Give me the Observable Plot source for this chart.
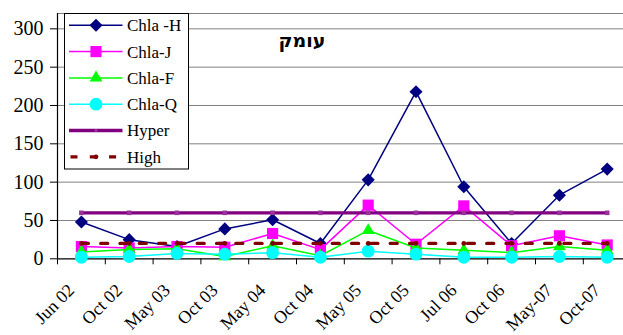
<!DOCTYPE html>
<html>
<head>
<meta charset="utf-8">
<script src="https://cdn.jsdelivr.net/npm/d3@7"></script>
<script src="https://cdn.jsdelivr.net/npm/@observablehq/plot@0.6"></script>
<style>
  html, body { margin: 0; padding: 0; background: #fff; }
  #chart svg { display: block; }
</style>
</head>
<body>
<div id="chart"></div>
<script>
// Sampling dates (x categories)
const dates = ["Jun 02", "Oct 02", "May 03", "Oct 03", "May 04", "Oct 04",
               "May 05", "Oct 05", "Jul 06", "Oct 06", "May-07", "Oct-07"];

// Chlorophyll-a by station
const chlaH = [48, 25, 16, 39, 51, 20, 103, 218, 94, 20, 83, 117];
const chlaJ = [16, 14, 16, 15, 33, 12, 70, 19, 69, 17, 30, 18];
const chlaF = [9, 12, 13, 3, 17, 4, 37, 14, 11, 8, 16, 11];
const chlaQ = [2, 3, 7, 6, 8, 2, 10, 6, 2, 2, 3, 2];

// Trophic thresholds
const hyper = dates.map(() => 60);
const high = dates.map(() => 20);

const yTicks = [0, 50, 100, 150, 200, 250, 300];
const title = "עומק";

const serif = "'Liberation Serif', 'Times New Roman', serif";

const series = [
  {name: "Chla -H", values: chlaH, color: "#000080", symbol: "diamond2", r: 5.9},
  {name: "Chla-J", values: chlaJ, color: "#ff00ff", symbol: "square", r: 6.3},
  {name: "Chla-F", values: chlaF, color: "#00ff00", symbol: "triangle", r: 4.7},
  {name: "Chla-Q", values: chlaQ, color: "#00ffff", symbol: "circle", r: 6.4}
];

const idx = dates.map((_, i) => i);
const bounds = d3.range(-0.5, dates.length - 1, 1);

const seriesMarks = series.flatMap(s => [
  Plot.line(idx, {x: i => i, y: i => s.values[i], stroke: s.color, strokeWidth: 1.5}),
  Plot.dot(idx, {x: i => i, y: i => s.values[i], symbol: () => s.symbol, r: s.r, fill: s.color, stroke: "none"})
]);

const chart = Plot.plot({
  width: 623,
  height: 335,
  marginLeft: 57,
  marginRight: 0,
  marginTop: 13,
  marginBottom: 76.7,
  style: {fontFamily: serif, fontSize: "19px", color: "#000", background: "#fff"},
  symbol: {type: "identity"},
  x: {type: "linear", domain: [-0.5, -0.5 + 566 / 47.8]},
  y: {domain: [0, 320]},
  marks: [
    Plot.gridY(yTicks.filter(t => t > 0), {stroke: "#808080", strokeOpacity: 1, strokeWidth: 1}),
    Plot.ruleY([320], {stroke: "#808080", strokeWidth: 1}),
    Plot.axisY({ticks: yTicks, tickSize: 7, tickPadding: 7, tickFormat: d => d, fontSize: 20, stroke: "#000"}),
    Plot.axisX({ticks: bounds, tickSize: 6, tickFormat: () => "", stroke: "#000"}),
    Plot.axisX({ticks: idx, tickSize: 0, tickRotate: -45, tickPadding: 28.5, dx: -10, tickFormat: i => dates[i], fontSize: 18}),
    Plot.ruleY([0], {stroke: "#000", strokeWidth: 1.2}),
    Plot.ruleX([-0.5], {y1: 0, y2: 320, stroke: "#000", strokeWidth: 1.2}),
    ...seriesMarks,
    // Hypertrophic threshold
    Plot.line(idx, {x: i => i, y: i => hyper[i], stroke: "#800080", strokeWidth: 3.3}),
    Plot.dot(idx, {x: i => i, y: i => hyper[i], symbol: "square", r: 2.6, fill: "#993399"}),
    // High threshold
    Plot.line(idx, {x: i => i, y: i => high[i], stroke: "#800000", strokeWidth: 3.3, strokeDasharray: "7,12.3"}),
    Plot.dot(idx, {x: i => i, y: i => high[i], r: 2.4, fill: "#800000"})
  ]
});

document.getElementById("chart").appendChild(chart);

// Legend box and title inside the plot area
const svg = d3.select(chart);
const g = svg.append("g").attr("font-family", serif).attr("font-size", 17).attr("text-anchor", "start");
g.append("rect").attr("x", 64.5).attr("y", 13.5).attr("width", 124).attr("height", 155.5)
  .attr("fill", "#fff").attr("stroke", "#000").attr("stroke-width", 1);

const legendItems = [
  ...series.map(s => ({name: s.name, color: s.color, symbol: s.symbol, r: s.r, width: 1.5})),
  {name: "Hyper", color: "#800080", symbol: "square", r: 1.6, width: 3.3, markFill: "#993399"},
  {name: "High", color: "#800000", symbol: "circle", r: 2.4, width: 3.3, dash: "7,12.3"}
];
const symbolTypes = {diamond2: d3.symbolDiamond2, square: d3.symbolSquare, triangle: d3.symbolTriangle, circle: d3.symbolCircle};
legendItems.forEach((d, k) => {
  const y = 25.3 + k * 26.3;
  g.append("line").attr("x1", d.dash ? 70.5 : 69).attr("x2", 122.5).attr("y1", y).attr("y2", y)
    .attr("stroke", d.color).attr("stroke-width", d.width)
    .attr("stroke-dasharray", d.dash || null);
  g.append("path").attr("transform", `translate(96,${y})`)
    .attr("d", d3.symbol(symbolTypes[d.symbol], Math.PI * d.r * d.r)())
    .attr("fill", d.markFill || d.color);
  g.append("text").attr("x", 127).attr("y", y).attr("dy", "0.35em").attr("fill", "#000").text(d.name);
});

svg.append("text").attr("x", 302).attr("y", 47).attr("text-anchor", "middle")
  .attr("font-family", "'DejaVu Sans', sans-serif").attr("font-weight", 700)
  .attr("font-size", 19).attr("fill", "#000").text(title);
</script>
</body>
</html>
